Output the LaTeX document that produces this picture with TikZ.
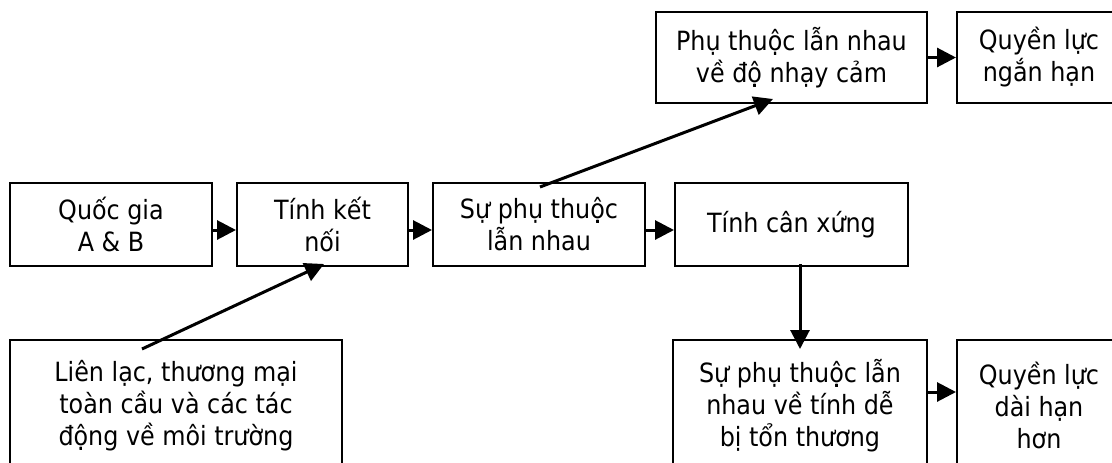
\documentclass[tikz,border=0pt]{standalone}
\usepackage{fontspec}
\setmainfont{DejaVu Sans Condensed}
\usetikzlibrary{arrows.meta,calc}
\begin{document}
\begin{tikzpicture}[x=1pt,y=-1pt,
  box/.style={draw=black,line width=2pt,fill=white,align=center,inner sep=0pt,
    font=\fontsize{26.5pt}{32pt}\selectfont},
  arr/.style={line width=3pt,-{Triangle[length=19pt,width=19pt]}}]
\useasboundingbox[fill=white] (0,0) rectangle (1112,463);
\node[box,minimum width=202pt,minimum height=83pt] (qg) at (111,224.5) {Quốc gia\\A \& B};
\node[box,minimum width=171pt,minimum height=83pt] (tk) at (322.5,224.5) {Tính kết\\nối};
\node[box,minimum width=212pt,minimum height=83pt] (sp) at (539,224.5) {Sự phụ thuộc\\lẫn nhau};
\node[box,minimum width=233pt,minimum height=83pt] (tc) at (791.5,224.5) {Tính cân xứng};
\node[box,minimum width=271pt,minimum height=91pt] (nc) at (791.5,57.5) {Phụ thuộc lẫn nhau\\về độ nhạy cảm};
\node[box,minimum width=164pt,minimum height=91pt] (qn) at (1039,57.5) {Quyền lực\\ngắn hạn};
\node[box,minimum width=332pt,minimum height=131pt] (ll) at (176,405.5) {Liên lạc, thương mại\\toàn cầu và các tác\\động về môi trường};
\node[box,minimum width=254pt,minimum height=131pt] (bt) at (800,405.5) {Sự phụ thuộc lẫn\\nhau về tính dễ\\bị tổn thương};
\node[box,minimum width=164pt,minimum height=131pt] (qd) at (1039,405.5) {Quyền lực\\dài hạn\\hơn};
\draw[arr] ([yshift=-5.5pt]qg.east) -- ([yshift=-5.5pt]tk.west);
\draw[arr] ([yshift=-5.5pt]tk.east) -- ([yshift=-5.5pt]sp.west);
\draw[arr] ([yshift=-5.5pt]sp.east) -- ([yshift=-5.5pt]tc.west);
\draw[arr] (nc.east) -- (qn.west);
\draw[arr] ([yshift=13.5pt]bt.east) -- ([yshift=13.5pt]qd.west);
\draw[arr] ($(sp.north)+(1,5)$) -- ($(nc.south)+(-18.5,-5)$);
\draw[arr] ($(ll.north)+(-34,10)$) -- ($(tk.south)+(1.5,-3)$);
\draw[arr] ($(tc.south)+(8.5,-3)$) -- ($(bt.north)+(0,10)$);
\end{tikzpicture}
\end{document}
